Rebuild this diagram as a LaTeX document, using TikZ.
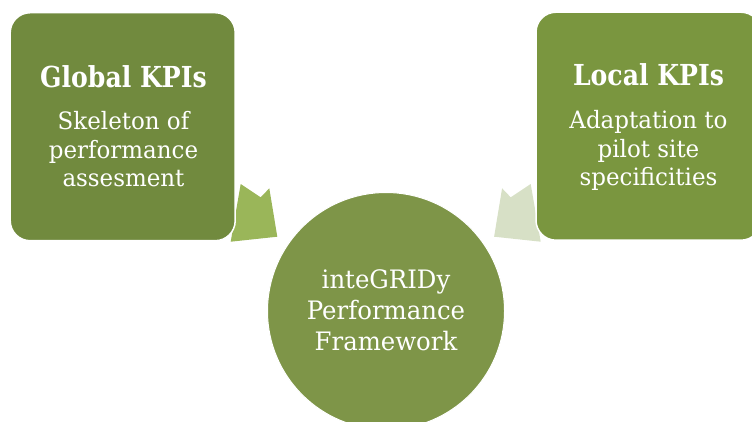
\documentclass[tikz,border=0pt]{standalone}
\usepackage{fontspec}
\setmainfont{DejaVu Serif}
\newfontfamily\ttlfont[FakeStretch=0.87]{DejaVu Serif}
\newfontfamily\bdyfont[FakeStretch=0.96]{DejaVu Serif}
\definecolor{boxL}{HTML}{718A3E}
\definecolor{boxR}{HTML}{7A963F}
\definecolor{circ}{HTML}{7E9548}
\definecolor{arrL}{HTML}{9AB659}
\definecolor{arrR}{HTML}{D7E0C6}
\begin{document}
\begin{tikzpicture}[x=1bp,y=-1bp,
  txt/.style={text=white,anchor=base,inner sep=0pt},
  ttl/.style={txt,font=\ttlfont\bfseries\fontsize{29}{32}\selectfont},
  bdy/.style={txt,font=\bdyfont\fontsize{24}{28}\selectfont},
  hubtxt/.style={txt,font=\bdyfont\fontsize{25.5}{30}\selectfont},
  kbox/.style={rectangle,rounded corners=20bp,draw=white,line width=1.5bp,
    minimum width=225bp,minimum height=228bp,inner sep=0pt},
  hub/.style={circle,draw=white,line width=1bp,minimum size=237bp,inner sep=0pt}]
\useasboundingbox (0,0) rectangle (752,421);
\clip (0,0) rectangle (752,421);
% arrows
\fill[arrL] (240.7,184) -- (260.7,197.3) -- (269.3,188.3) -- (277.3,236.7) -- (230.7,241.7) -- cycle;
\fill[arrR] (530.7,184) -- (510.7,197.3) -- (502.1,188.3) -- (494.1,236.7) -- (540.7,241.7) -- cycle;
% boxes
\node[kbox,fill=boxL] (gbox) at (122.7,126.7) {};
\node[kbox,fill=boxR] (lbox) at (648.5,126.2) {};
\node[hub,fill=circ] (hubc) at (386,311) {};
% texts
\node[ttl] (g1) at (123.5,87) {Global KPIs};
\node[bdy] (g2) at (123.5,129) {Skeleton of};
\node[bdy] (g3) at (123.5,158.3) {performance};
\node[bdy] (g4) at (123.5,186.7) {assesment};
\node[ttl] (l1) at (648.5,85.5) {Local KPIs};
\node[bdy] (l2) at (648.5,128) {Adaptation to};
\node[bdy] (l3) at (648.5,157) {pilot site};
\node[bdy] (l4) at (648.5,185) {specificities};
\node[hubtxt] (c1) at (386,288) {inteGRIDy};
\node[hubtxt] (c2) at (386,319.5) {Performance};
\node[hubtxt] (c3) at (386,350) {Framework};
\end{tikzpicture}
\end{document}
